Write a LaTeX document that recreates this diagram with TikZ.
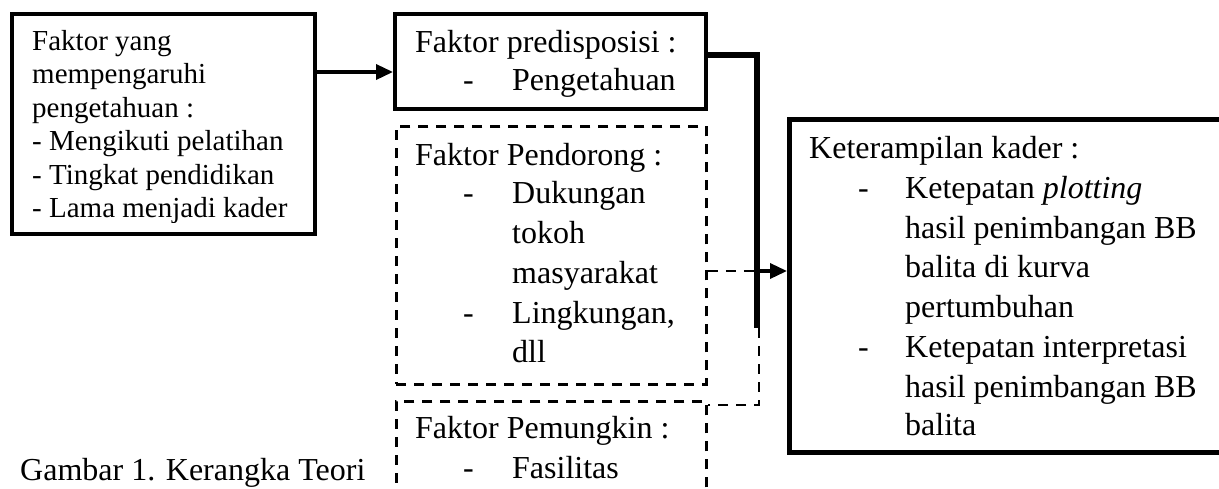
\documentclass[tikz,border=0pt]{standalone}
\usepackage{fontspec}
\setmainfont{Liberation Serif}
\usetikzlibrary{arrows.meta}
\begin{document}
\begin{tikzpicture}[x=1pt,y=-1pt,
  solidbox/.style={draw, line width=3.5pt, inner sep=0pt, anchor=north west},
  dashbox/.style={draw, line width=2.8pt, dash pattern=on 10pt off 8pt, inner sep=0pt, anchor=north west},
  dashline/.style={line width=2.8pt, dash pattern=on 10pt off 8pt},
  txt/.style={anchor=base west, inner sep=0pt, font=\fontsize{32}{39.5}\selectfont},
  txtsmall/.style={anchor=base west, inner sep=0pt, font=\fontsize{29}{33.5}\selectfont},
  arr/.style={line width=3.5pt, -{Triangle[length=17pt,width=15pt]}},
  thickline/.style={line width=6pt, line join=miter}]
\useasboundingbox (0,0) rectangle (1219,488);
% boxes
\node[solidbox, minimum width=303pt, minimum height=220pt] (box1) at (10,12) {};
\node[solidbox, minimum width=311pt, minimum height=95pt] (pred) at (393,12) {};
\node[dashbox, minimum width=310pt, minimum height=258pt] (pend) at (395,125) {};
\node[dashbox, minimum width=310pt, minimum height=100pt] (pem) at (395,400) {};
\node[draw, line width=4.5pt, inner sep=0pt, anchor=north west, minimum width=440pt, minimum height=333pt] (ket) at (787,117) {};
% box 1 text
\begin{scope}
\clip (10,12) rectangle (313,222);
\node[txtsmall] (b1a) at (32,50) {Faktor yang};
\node[txtsmall] (b1b) at (32,83.5) {mempengaruhi};
\node[txtsmall] (b1c) at (32,117) {pengetahuan :};
\node[txtsmall] (b1d) at (32,150.5) {- Mengikuti pelatihan};
\node[txtsmall] (b1e) at (32,184) {- Tingkat pendidikan};
\node[txtsmall] (b1f) at (32,217.5) {- Lama menjadi kader};
\end{scope}
% predisposisi
\begin{scope}
\clip (393,12) rectangle (704,97);
\node[txt] (p1) at (415,52) {Faktor predisposisi :};
\node[txt] (p2d) at (463,90) {-};
\node[txt] (p2) at (512,90) {Pengetahuan};
\end{scope}
% pendorong
\node[txt] (d1) at (415,165) {Faktor Pendorong :};
\node[txt] (d2d) at (463,203) {-};
\node[txt] (d2) at (512,203) {Dukungan};
\node[txt] (d3) at (512,243) {tokoh};
\node[txt] (d4) at (512,283) {masyarakat};
\node[txt] (d5d) at (463,323) {-};
\node[txt] (d5) at (512,323) {Lingkungan,};
\node[txt] (d6) at (512,362) {dll};
% pemungkin
\node[txt] (m1) at (415,438) {Faktor Pemungkin :};
\node[txt] (m2d) at (463,478) {-};
\node[txt] (m2) at (512,478) {Fasilitas};
% keterampilan
\node[txt] (k1) at (809,158) {Keterampilan kader :};
\node[txt] (k2d) at (858,198) {-};
\node[txt] (k2) at (905,198) {Ketepatan \textit{plotting}};
\node[txt] (k3) at (905,238) {hasil penimbangan BB};
\node[txt] (k4) at (905,277) {balita di kurva};
\node[txt] (k5) at (905,317) {pertumbuhan};
\node[txt] (k6d) at (858,357) {-};
\node[txt] (k6) at (905,357) {Ketepatan interpretasi};
\node[txt] (k7) at (905,397) {hasil penimbangan BB};
\node[txt] (k8) at (905,435) {balita};
% caption
\node[txt] (cap) at (20,480) {Gambar 1. Kerangka Teori};
% connectors
\coordinate (a1y) at (0,72);
\draw[arr] (box1.east |- a1y) -- (pred.west |- a1y);
\coordinate (t1) at (757,55);
\coordinate (t2) at (757,328);
\draw[thickline] (pred.east |- t1) -- (t1) -- (t2);
\coordinate (d9) at (759,405);
\draw[dashline] (t2 -| d9) -- (d9) -- (pem.east |- d9);
\coordinate (mid) at (757,271);
\draw[dashline] (pend.east |- mid) -- (mid);
\draw[arr] (mid) -- (ket.west |- mid);
\end{tikzpicture}
\end{document}
